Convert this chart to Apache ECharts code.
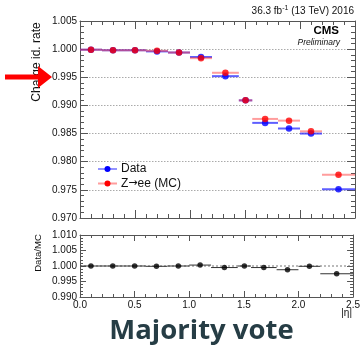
<!DOCTYPE html>
<html>
<head>
<meta charset="utf-8">
<script src="https://cdn.jsdelivr.net/npm/echarts@6/dist/echarts.min.js"></script>
<style>
html,body{margin:0;padding:0;background:#fff;}
#chart{width:363px;height:346px;}
</style>
</head>
<body>
<div id="chart"></div>
<script>
// |eta| bins
var binLow    = [0.0, 0.2, 0.4, 0.6, 0.8, 1.0, 1.2,   1.444, 1.566, 1.8, 2.0, 2.2];
var binHigh   = [0.2, 0.4, 0.6, 0.8, 1.0, 1.2, 1.444, 1.566, 1.8,   2.0, 2.2, 2.5];
var etaCenter = [0.1, 0.3, 0.5, 0.7, 0.9, 1.1, 1.322, 1.505, 1.683, 1.9, 2.1, 2.35];
// charge id. rate
var dataRate  = [0.9999, 0.9998, 0.9998, 0.9996, 0.9994, 0.9986, 0.9952, 0.9909, 0.9869, 0.9859, 0.9850, 0.9751];
var mcRate    = [0.9999, 0.9998, 0.9998, 0.9997, 0.9994, 0.9984, 0.9958, 0.9909, 0.9876, 0.9873, 0.9854, 0.9777];
// Data/MC ratio
var ratio     = [1.0000, 1.0000, 1.0000, 0.9999, 1.0000, 1.0003, 0.9995, 1.0000, 0.9995, 0.9988, 0.9999, 0.9975];
// tick settings
var topYTicks = {min: 0.970, max: 1.005, interval: 0.005};
var botYTicks = {min: 0.990, max: 1.010, interval: 0.005};
var xTicks = {min: 0, max: 2.5, interval: 0.5};

var FONT = 'Liberation Sans, Arial, Helvetica, sans-serif';
var AX = '#555';

function binData(vals){ return vals.map(function(v,i){ return [binLow[i], binHigh[i], v]; }); }
function ptData(vals){ return vals.map(function(v,i){ return [etaCenter[i], v]; }); }
function hbar(color, width){
  return function(params, api){
    var a = api.coord([api.value(0), api.value(2)]);
    var b = api.coord([api.value(1), api.value(2)]);
    return {type:'line', shape:{x1:a[0], y1:a[1], x2:b[0], y2:b[1]}, style:{stroke:color, lineWidth:width}};
  };
}
function xAx(grid, pos, showLabel){
  return {type:'value', gridIndex:grid, position:pos, min:xTicks.min, max:xTicks.max, interval:xTicks.interval,
    axisLine:{show:true, onZero:false, lineStyle:{color:AX, width:1}},
    axisTick:{show:true, inside:true, length: grid===0?8:6, lineStyle:{color:AX}},
    minorTick:{show:true, splitNumber:5, length: grid===0?4:3, lineStyle:{color:AX}},
    axisLabel:{show:showLabel, fontFamily:FONT, fontSize:10, color:'#111', margin:3,
      formatter:function(v){return v.toFixed(1);}},
    splitLine:{show:false}};
}
function yAx(grid, pos, t, showLabel, split){
  return {type:'value', gridIndex:grid, position:pos, min:t.min, max:t.max, interval:t.interval,
    axisLine:{show:true, onZero:false, lineStyle:{color:AX, width:1}},
    axisTick:{show:true, inside:true, length: grid===0?8:6, lineStyle:{color:AX}},
    minorTick:{show:true, splitNumber:5, length: grid===0?4:3, lineStyle:{color:AX}},
    axisLabel:{show:showLabel, fontFamily:FONT, fontSize:10, color:'#111', margin:3,
      formatter:function(v){return v.toFixed(3);}},
    splitLine:{show:split, lineStyle:{color:'#aaa', type:[1.5,1.5], width:1}}};
}

var chart = echarts.init(document.getElementById('chart'), null, {renderer:'canvas'});
chart.setOption({
  animation:false,
  backgroundColor:'#fff',
  grid:[
    {left:80, right:8, top:21, height:197},
    {left:80, right:8, top:235, height:62}
  ],
  xAxis:[ xAx(0,'bottom',false), xAx(0,'top',false), xAx(1,'bottom',true), xAx(1,'top',false) ],
  yAxis:[ yAx(0,'left',topYTicks,true,true), yAx(0,'right',topYTicks,false,false),
          yAx(1,'left',botYTicks,true,false), yAx(1,'right',botYTicks,false,false) ],
  series:[
    {type:'custom', xAxisIndex:0, yAxisIndex:0, renderItem:hbar('rgba(40,40,255,0.75)',2), data:binData(dataRate), encode:{x:[0,1], y:2}, z:2},
    {type:'custom', xAxisIndex:0, yAxisIndex:0, renderItem:hbar('rgba(255,60,60,0.5)',2), data:binData(mcRate), encode:{x:[0,1], y:2}, z:3},
    {type:'scatter', xAxisIndex:0, yAxisIndex:0, data:ptData(dataRate), symbol:'circle', symbolSize:6.5, itemStyle:{color:'#0000ff'}, z:4},
    {type:'scatter', xAxisIndex:0, yAxisIndex:0, data:ptData(mcRate), symbol:'circle', symbolSize:6.5, itemStyle:{color:'#ff0000'}, z:5},
    {type:'line', xAxisIndex:2, yAxisIndex:2, data:[[xTicks.min,1],[xTicks.max,1]], symbol:'none',
      lineStyle:{color:'#777', type:[2,2], width:1}, z:1},
    {type:'custom', xAxisIndex:2, yAxisIndex:2, renderItem:hbar('#333',1), data:binData(ratio), encode:{x:[0,1], y:2}, z:2},
    {type:'scatter', xAxisIndex:2, yAxisIndex:2, data:ptData(ratio), symbol:'circle', symbolSize:5.5, itemStyle:{color:'#000'}, z:4}
  ],
  graphic:[
    // y titles
    {type:'text', x:37, y:62, rotation:Math.PI/2, style:{text:'Charge id. rate', fontFamily:FONT, fontSize:12, fill:'#111', align:'center', verticalAlign:'middle'}},
    {type:'text', x:38, y:253, rotation:Math.PI/2, style:{text:'Data/MC', fontFamily:FONT, fontSize:9.5, fill:'#111', align:'center', verticalAlign:'middle'}},
    {type:'text', x:352, y:313, style:{text:'|η|', fontFamily:FONT, fontSize:10, fill:'#111', align:'right', verticalAlign:'middle'}},
    // header
    {type:'text', x:354, y:11, style:{text:'36.3 fb{sup|-1} (13 TeV) 2016', fontFamily:FONT, fontSize:10, fill:'#111', align:'right', verticalAlign:'middle',
      rich:{sup:{fontSize:7, fontFamily:FONT, fill:'#111', verticalAlign:'top', padding:[0,0,6,0]}}}},
    {type:'text', x:339, y:31, style:{text:'CMS', fontFamily:FONT, fontSize:11.5, fontWeight:'bold', fill:'#000', align:'right', verticalAlign:'middle'}},
    {type:'text', x:340, y:43, style:{text:'Preliminary', fontFamily:FONT, fontSize:8.5, fontStyle:'italic', fill:'#111', align:'right', verticalAlign:'middle'}},
    // legend
    {type:'line', shape:{x1:98, y1:169, x2:117, y2:169}, style:{stroke:'rgba(40,40,255,0.5)', lineWidth:2}},
    {type:'circle', shape:{cx:107.5, cy:169, r:3}, style:{fill:'#0000ff'}},
    {type:'text', x:121, y:169, style:{text:'Data', fontFamily:FONT, fontSize:12, fill:'#111', align:'left', verticalAlign:'middle'}},
    {type:'line', shape:{x1:98, y1:183.5, x2:117, y2:183.5}, style:{stroke:'rgba(255,60,60,0.5)', lineWidth:2}},
    {type:'circle', shape:{cx:107.5, cy:183.5, r:3}, style:{fill:'#ff0000'}},
    {type:'text', x:121, y:183.5, style:{text:'Z{arr|→}ee (MC)', fontFamily:FONT, fontSize:12, fill:'#111', align:'left', verticalAlign:'middle',
      rich:{arr:{fontFamily:'DejaVu Sans', fontSize:11, fill:'#111'}}}},
    // red arrow annotation
    {type:'polygon', z:100, shape:{points:[[5,74.5],[38,74.5],[38,66],[52,77],[38,88],[38,79.5],[5,79.5]]}, style:{fill:'#ff0000'}},
    // caption
    {type:'text', x:201.5, y:331, style:{text:'Majority vote', fontFamily:'Open Sans, sans-serif', fontSize:27.5, fontWeight:'bold', fill:'#263d45', align:'center', verticalAlign:'middle'}}
  ]
});
</script>
</body>
</html>
